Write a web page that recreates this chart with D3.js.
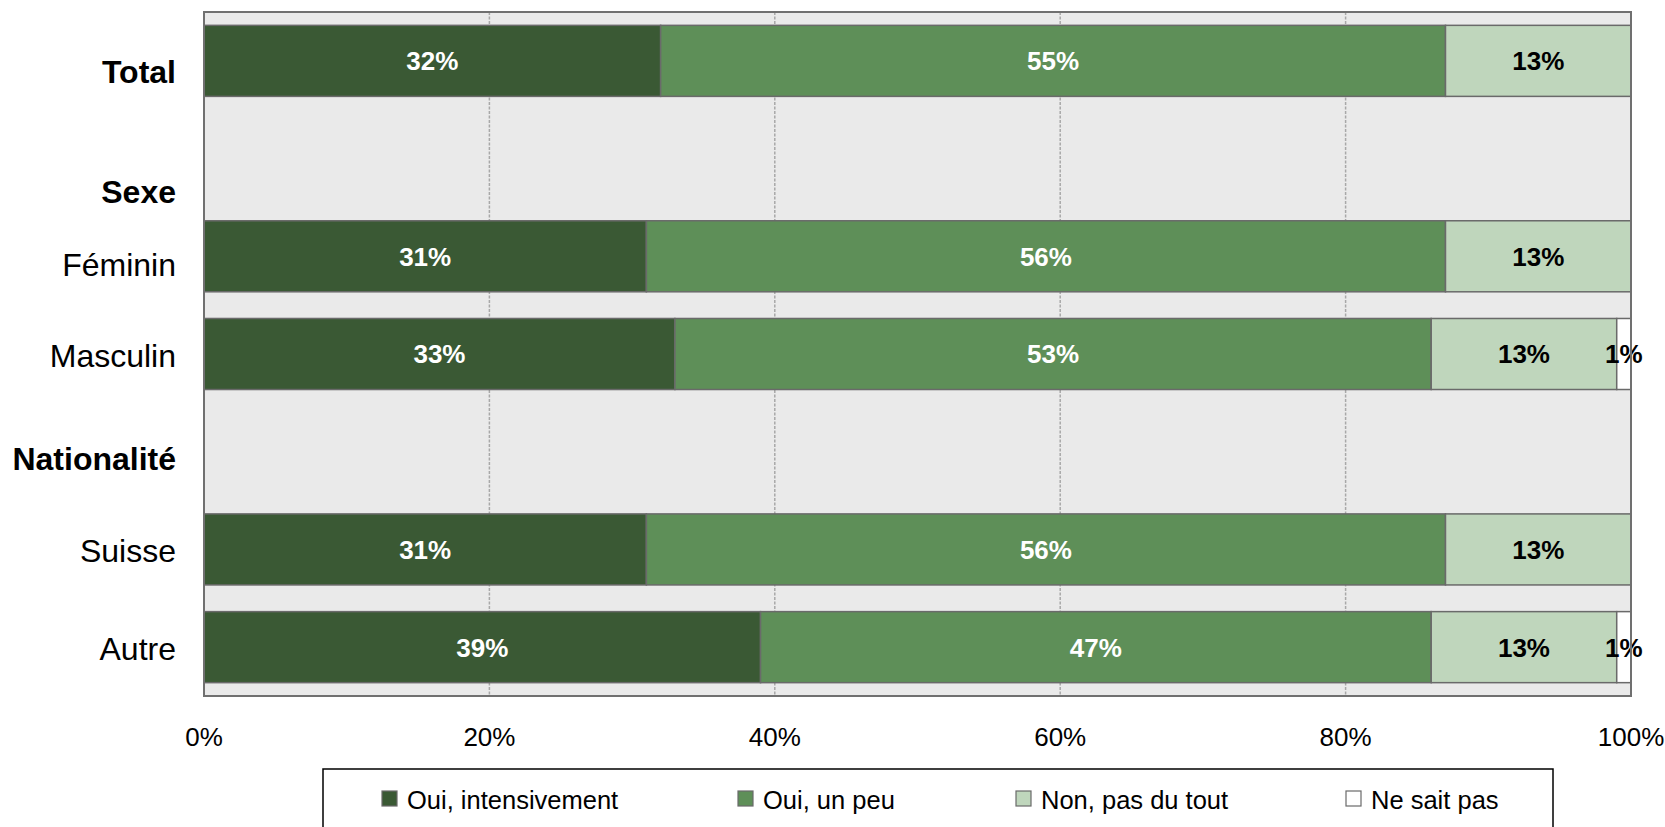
<!DOCTYPE html>
<html>
<head>
<meta charset="utf-8">
<script src="https://cdn.jsdelivr.net/npm/d3@7/dist/d3.min.js"></script>
<style>
  html, body { margin: 0; padding: 0; background: #ffffff; }
  svg { display: block; font-family: "Liberation Sans", Arial, sans-serif; }
</style>
</head>
<body>
<svg id="chart" width="1665" height="827"></svg>
<script>
// ---- Data ----
const categories = ["Total", "Sexe", "Féminin", "Masculin", "Nationalité", "Suisse", "Autre"];
const groupHeaders = ["Total", "Sexe", "Nationalité"];
const seriesNames = ["Oui, intensivement", "Oui, un peu", "Non, pas du tout", "Ne sait pas"];
const ouiIntensivement = [32, null, 31, 33, null, 31, 39];
const ouiUnPeu        = [55, null, 56, 53, null, 56, 47];
const nonPasDuTout    = [13, null, 13, 13, null, 13, 13];
const neSaitPas       = [0,  null, 0,  1,  null, 0,  1];
const tickValues = [0, 20, 40, 60, 80, 100];
const tickLabels = ["0%", "20%", "40%", "60%", "80%", "100%"];

// ---- Styles ----
const colors = ["#3A5934", "#5E8F58", "#BFD6BC", "#FFFFFF"];
const labelColors = ["#FFFFFF", "#FFFFFF", "#000000", "#000000"];

const svg = d3.select("#chart");
const pL = 204, pR = 1631, pT = 12, pB = 696;

const x = d3.scaleLinear().domain([0, 100]).range([pL, pR]);
const y = d3.scaleBand().domain(categories).range([pT, pB])
  .paddingInner(0.273).paddingOuter(0.1365);

const seriesArrays = [ouiIntensivement, ouiUnPeu, nonPasDuTout, neSaitPas];
const rows = categories.map((c, i) => {
  const r = { cat: c };
  seriesNames.forEach((s, j) => r[s] = seriesArrays[j][i] == null ? 0 : seriesArrays[j][i]);
  r.empty = seriesArrays[0][i] == null;
  return r;
});
const stacked = d3.stack().keys(seriesNames)(rows);

// plot background
svg.append("rect").attr("x", pL).attr("y", pT).attr("width", pR - pL).attr("height", pB - pT)
  .attr("fill", "#EAEAEA");

// gridlines
svg.append("g").selectAll("line").data(tickValues.filter(v => v > 0 && v < 100)).join("line")
  .attr("x1", d => x(d)).attr("x2", d => x(d)).attr("y1", pT).attr("y2", pB)
  .attr("stroke", "#A8A8A8").attr("stroke-width", 1.5).attr("stroke-dasharray", "3,1.5");

// bars
const gSeries = svg.append("g").selectAll("g").data(stacked).join("g")
  .attr("fill", (d, i) => colors[i]);
gSeries.selectAll("rect").data(d => d.filter(p => !p.data.empty && p[1] - p[0] > 0)).join("rect")
  .attr("x", d => x(d[0])).attr("width", d => x(d[1]) - x(d[0]))
  .attr("y", d => y(d.data.cat)).attr("height", y.bandwidth())
  .attr("stroke", "#6A6A6A").attr("stroke-width", 1.5);

// value labels
stacked.forEach((s, i) => {
  svg.append("g").selectAll("text").data(s.filter(p => !p.data.empty && p[1] - p[0] > 0)).join("text")
    .attr("x", d => x((d[0] + d[1]) / 2))
    .attr("y", d => y(d.data.cat) + y.bandwidth() / 2)
    .attr("dy", "0.36em")
    .attr("text-anchor", "middle")
    .attr("font-size", 26).attr("font-weight", "bold")
    .attr("fill", labelColors[i])
    .text(d => (d[1] - d[0]) + "%");
});

// plot frame
svg.append("rect").attr("x", pL).attr("y", pT).attr("width", pR - pL).attr("height", pB - pT)
  .attr("fill", "none").attr("stroke", "#707070").attr("stroke-width", 2);

// category labels (vertical nudges as in the original layout)
const labelShift = { "Total": 10.5, "Sexe": 32.5, "Féminin": 8, "Masculin": 1, "Nationalité": 7, "Suisse": 1, "Autre": 1 };
svg.append("g").selectAll("text").data(categories).join("text")
  .attr("x", 176)
  .attr("y", d => y(d) + y.bandwidth() / 2 + labelShift[d])
  .attr("dy", "0.36em")
  .attr("text-anchor", "end")
  .attr("font-size", 32)
  .attr("font-weight", d => groupHeaders.includes(d) ? "bold" : "normal")
  .attr("fill", "#000")
  .text(d => d);

// x axis tick labels
svg.append("g").selectAll("text").data(tickValues).join("text")
  .attr("x", d => x(d)).attr("y", 737).attr("dy", "0.36em")
  .attr("text-anchor", "middle").attr("font-size", 26).attr("fill", "#000")
  .text((d, i) => tickLabels[i]);

// legend
svg.append("rect").attr("x", 323).attr("y", 769).attr("width", 1230).attr("height", 80)
  .attr("fill", "#fff").attr("stroke", "#000").attr("stroke-width", 1.5);
const legendX = [382, 738, 1016, 1346];
const lg = svg.append("g").selectAll("g").data(seriesNames).join("g")
  .attr("transform", (d, i) => `translate(${legendX[i]},0)`);
lg.append("rect").attr("x", 0).attr("y", 791).attr("width", 15).attr("height", 15)
  .attr("fill", (d, i) => colors[i]).attr("stroke", "#6A6A6A").attr("stroke-width", 1.2);
lg.append("text").attr("x", 25).attr("y", 800).attr("dy", "0.36em")
  .attr("font-size", 25.5).attr("fill", "#000").text(d => d);
</script>
</body>
</html>
